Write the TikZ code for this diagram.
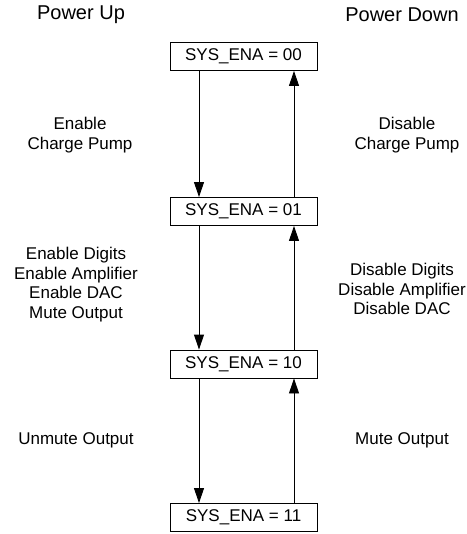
\documentclass[tikz,border=0pt]{standalone}
\usepackage{fontspec}
\setmainfont{Liberation Sans}
\usetikzlibrary{arrows.meta}
\begin{document}
\begin{tikzpicture}[x=1pt,y=-1pt,
  every node/.style={font=\fontsize{17}{19.5}\selectfont, inner sep=0pt},
  state/.style={draw, line width=0.9pt, minimum width=147pt, minimum height=28pt},
  lbl/.style={align=center},
  head/.style={font=\fontsize{20}{22}\selectfont},
  arr/.style={line width=0.9pt, -{Triangle[length=15pt,width=10pt]}}]
\useasboundingbox (0,0) rectangle (466,534);
\node[head] (pu) at (81,15) {Power Up};
\node[head] (pd) at (402,15) {Power Down};
\node[state] (s0) at (243.5,56.5) {SYS\_ENA = 00};
\node[state] (s1) at (243.5,211.5) {SYS\_ENA = 01};
\node[state] (s2) at (243.5,364) {SYS\_ENA = 10};
\node[state] (s3) at (243.5,517.5) {SYS\_ENA = 11};
\node[lbl] (l1) at (80,135) {Enable\\Charge Pump};
\node[lbl] (r1) at (407,135) {Disable\\Charge Pump};
\node[lbl] (l2) at (76,284.5) {Enable Digits\\Enable Amplifier\\Enable DAC\\Mute Output};
\node[lbl] (r2) at (402,289) {Disable Digits\\Disable Amplifier\\Disable DAC};
\node[lbl] (l3) at (76,440) {Unmute Output};
\node[lbl] (r3) at (402,440) {Mute Output};
\draw[arr] (s0.south -| 199,0) -- (s1.north -| 199,0);
\draw[arr] (s1.south -| 199,0) -- (s2.north -| 199,0);
\draw[arr] (s2.south -| 199,0) -- (s3.north -| 199,0);
\draw[arr] (s3.north -| 294,0) -- (s2.south -| 294,0);
\draw[arr] (s2.north -| 294,0) -- (s1.south -| 294,0);
\draw[arr] (s1.north -| 294,0) -- (s0.south -| 294,0);
\end{tikzpicture}
\end{document}
